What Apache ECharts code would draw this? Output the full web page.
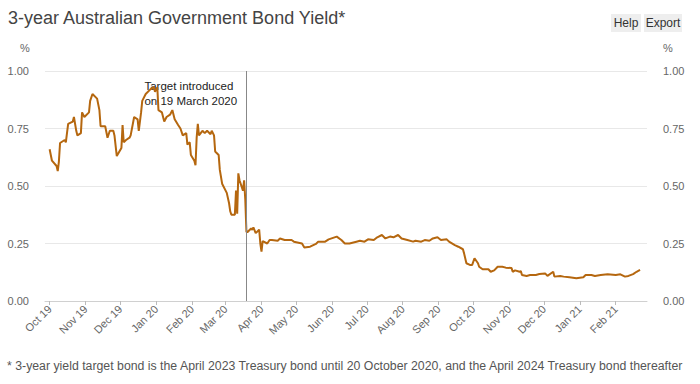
<!DOCTYPE html>
<html>
<head>
<meta charset="utf-8">
<script src="https://cdn.jsdelivr.net/npm/echarts@6/dist/echarts.min.js"></script>
<style>
html,body{margin:0;padding:0;background:#fff;}
#chart{width:700px;height:384px;}
</style>
</head>
<body>
<div id="chart"></div>
<script>
const titleText = '3-year Australian Government Bond Yield*';
const footnoteText = '* 3-year yield target bond is the April 2023 Treasury bond until 20 October 2020, and the April 2024 Treasury bond thereafter';
const annotationText = 'Target introduced\non 19 March 2020';
const targetDate = '2020-03-19';
const monthNames = ['Jan','Feb','Mar','Apr','May','Jun','Jul','Aug','Sep','Oct','Nov','Dec'];
const yTicks = [0, 0.25, 0.5, 0.75, 1];
const axisStart = '2019-09-27';
const axisEnd = '2021-02-28';

const dates = [
'2019-10-01','2019-10-03','2019-10-07','2019-10-08','2019-10-09','2019-10-10','2019-10-14','2019-10-15','2019-10-17','2019-10-21',
'2019-10-22','2019-10-24','2019-10-25','2019-10-28','2019-10-29','2019-10-31','2019-11-04','2019-11-05','2019-11-07','2019-11-11',
'2019-11-13','2019-11-14','2019-11-18','2019-11-20','2019-11-22','2019-11-25','2019-11-26','2019-11-28','2019-12-02','2019-12-03',
'2019-12-04','2019-12-06','2019-12-09','2019-12-10','2019-12-13','2019-12-16','2019-12-17','2019-12-19','2019-12-20','2019-12-23',
'2019-12-27','2019-12-30','2019-12-31','2020-01-02','2020-01-03','2020-01-06','2020-01-08','2020-01-10','2020-01-13','2020-01-15',
'2020-01-17','2020-01-20','2020-01-22','2020-01-24','2020-01-27','2020-01-28','2020-01-30','2020-01-31','2020-02-03','2020-02-04',
'2020-02-05','2020-02-06','2020-02-07','2020-02-10','2020-02-12','2020-02-14','2020-02-17','2020-02-18','2020-02-20','2020-02-21',
'2020-02-24','2020-02-25','2020-02-27','2020-03-02','2020-03-04','2020-03-05','2020-03-06','2020-03-09','2020-03-10','2020-03-11',
'2020-03-12','2020-03-13','2020-03-16','2020-03-17','2020-03-18','2020-03-19','2020-03-20','2020-03-23','2020-03-24','2020-03-25',
'2020-03-27','2020-03-30','2020-03-31','2020-04-01','2020-04-02','2020-04-06','2020-04-08','2020-04-10','2020-04-15','2020-04-17',
'2020-04-21','2020-04-27','2020-04-29','2020-05-06','2020-05-08','2020-05-13','2020-05-18','2020-05-20','2020-05-26','2020-05-29',
'2020-06-05','2020-06-09','2020-06-12','2020-06-16','2020-06-22','2020-06-25','2020-06-29','2020-07-02','2020-07-07','2020-07-10',
'2020-07-14','2020-07-17','2020-07-21','2020-07-24','2020-07-28','2020-07-31','2020-08-05','2020-08-10','2020-08-12','2020-08-17',
'2020-08-20','2020-08-24','2020-08-27','2020-08-31','2020-09-03','2020-09-08','2020-09-10','2020-09-15','2020-09-18','2020-09-22',
'2020-09-23','2020-09-25','2020-09-28','2020-09-30','2020-10-02','2020-10-05','2020-10-06','2020-10-09','2020-10-14','2020-10-16',
'2020-10-19','2020-10-22','2020-10-26','2020-10-29','2020-11-03','2020-11-04','2020-11-06','2020-11-10','2020-11-11','2020-11-12',
'2020-11-16','2020-11-19','2020-11-24','2020-11-27','2020-12-02','2020-12-04','2020-12-09','2020-12-10','2020-12-15','2020-12-18',
'2020-12-23','2020-12-29','2021-01-04','2021-01-06','2021-01-11','2021-01-14','2021-01-19','2021-01-25','2021-02-01','2021-02-05',
'2021-02-09','2021-02-12','2021-02-16','2021-02-19','2021-02-22'
];
const yields = [
0.66,0.61,0.587,0.565,0.606,0.687,0.70,0.69,0.77,0.78,
0.80,0.74,0.72,0.73,0.82,0.80,0.82,0.87,0.90,0.88,
0.83,0.76,0.76,0.71,0.74,0.74,0.72,0.63,0.665,0.765,
0.69,0.70,0.71,0.72,0.80,0.79,0.74,0.82,0.87,0.90,
0.92,0.93,0.91,0.93,0.83,0.82,0.78,0.80,0.81,0.83,
0.79,0.765,0.75,0.72,0.73,0.68,0.69,0.635,0.61,0.59,
0.71,0.77,0.72,0.74,0.73,0.74,0.725,0.74,0.72,0.65,
0.635,0.57,0.51,0.47,0.425,0.39,0.375,0.375,0.48,0.38,
0.555,0.525,0.48,0.525,0.44,0.30,0.30,0.315,0.31,0.32,
0.295,0.31,0.25,0.215,0.26,0.25,0.265,0.265,0.262,0.272,
0.265,0.265,0.258,0.25,0.233,0.236,0.248,0.258,0.258,0.268,
0.28,0.265,0.25,0.25,0.258,0.262,0.258,0.268,0.265,0.277,
0.287,0.272,0.28,0.277,0.287,0.272,0.265,0.258,0.262,0.258,
0.265,0.262,0.272,0.277,0.265,0.268,0.258,0.243,0.236,0.225,
0.207,0.164,0.157,0.157,0.186,0.164,0.149,0.138,0.138,0.127,
0.133,0.149,0.149,0.145,0.143,0.127,0.133,0.127,0.13,0.113,
0.109,0.113,0.113,0.117,0.12,0.109,0.127,0.106,0.109,0.106,
0.103,0.099,0.103,0.113,0.113,0.109,0.113,0.116,0.113,0.116,
0.106,0.109,0.117,0.127,0.135
];

const seriesData = dates.map((d, i) => [d, yields[i]]);
const FONT = '"Liberation Sans", Arial, sans-serif';
const labelColor = '#666';

const chart = echarts.init(document.getElementById('chart'), null, {renderer: 'svg'});

const yAxisBase = {
  type: 'value', min: yTicks[0], max: yTicks[yTicks.length - 1], interval: yTicks[1] - yTicks[0],
  axisLine: {show: false}, axisTick: {show: false},
  axisLabel: {color: labelColor, fontSize: 11, fontFamily: FONT, margin: 16,
    formatter: v => v.toFixed(2)}
};

chart.setOption({
  animation: false,
  backgroundColor: '#fff',
  textStyle: {fontFamily: FONT},
  grid: {left: 45, right: 53, top: 71, bottom: 83, containLabel: false},
  xAxis: {
    type: 'time', min: axisStart, max: axisEnd,
    splitNumber: 17,
    minInterval: 28 * 86400000, maxInterval: 31 * 86400000,
    axisLine: {show: true, lineStyle: {color: '#d0d0d0', width: 1}},
    axisTick: {show: true, length: 4, lineStyle: {color: '#bbb'}},
    splitLine: {show: false},
    axisLabel: {
      rotate: 45, color: labelColor, fontSize: 11, fontFamily: FONT, margin: 6,
      hideOverlap: false, showMinLabel: false, showMaxLabel: false,
      formatter: function (value) {
        const d = new Date(value);
        return monthNames[d.getMonth()] + ' ' + String(d.getFullYear()).slice(2);
      }
    }
  },
  yAxis: [
    Object.assign({}, yAxisBase, {position: 'left',
      splitLine: {show: true, lineStyle: {color: '#e8e8e8', width: 1}}}),
    Object.assign({}, yAxisBase, {position: 'right', splitLine: {show: false}})
  ],
  series: [{
    type: 'line', data: seriesData, showSymbol: false, symbol: 'none',
    lineStyle: {color: '#b5670f', width: 2},
    itemStyle: {color: '#b5670f'},
    markLine: {
      silent: true, symbol: 'none', animation: false,
      label: {show: false},
      lineStyle: {color: '#888', width: 1, type: 'solid'},
      data: [{xAxis: targetDate}]
    },
    z: 3
  }],
  graphic: [
    {type: 'text', left: 8, top: 9, style: {text: titleText, fill: '#444', font: '18px ' + FONT}},
    {type: 'text', left: 20, top: 42, style: {text: '%', fill: labelColor, font: '11px ' + FONT}},
    {type: 'text', left: 663, top: 42, style: {text: '%', fill: labelColor, font: '11px ' + FONT}},
    {type: 'group', left: 611, top: 14, children: [
      {type: 'rect', shape: {x: 0, y: 0, width: 30, height: 18}, style: {fill: '#eeeeee'}},
      {type: 'text', style: {x: 15, y: 9, text: 'Help', fill: '#333', font: '12px ' + FONT, align: 'center', verticalAlign: 'middle'}},
      {type: 'rect', shape: {x: 33, y: 0, width: 38, height: 18}, style: {fill: '#eeeeee'}},
      {type: 'text', style: {x: 52, y: 9, text: 'Export', fill: '#333', font: '12px ' + FONT, align: 'center', verticalAlign: 'middle'}}
    ]},
    {type: 'text', left: 7, top: 360, style: {text: footnoteText, fill: '#555', font: '12.3px ' + FONT}}
  ]
});

// place the annotation just left of the target line, from the axis scale
const px = chart.convertToPixel({xAxisIndex: 0, yAxisIndex: 0}, [targetDate, 1]);
chart.setOption({
  graphic: [
    {type: 'text', id: 'annot', x: px[0] - 102, y: px[1] + 7,
      style: {text: annotationText, fill: '#222', font: '11.5px ' + FONT, lineHeight: 15}}
  ]
});
</script>
</body>
</html>
